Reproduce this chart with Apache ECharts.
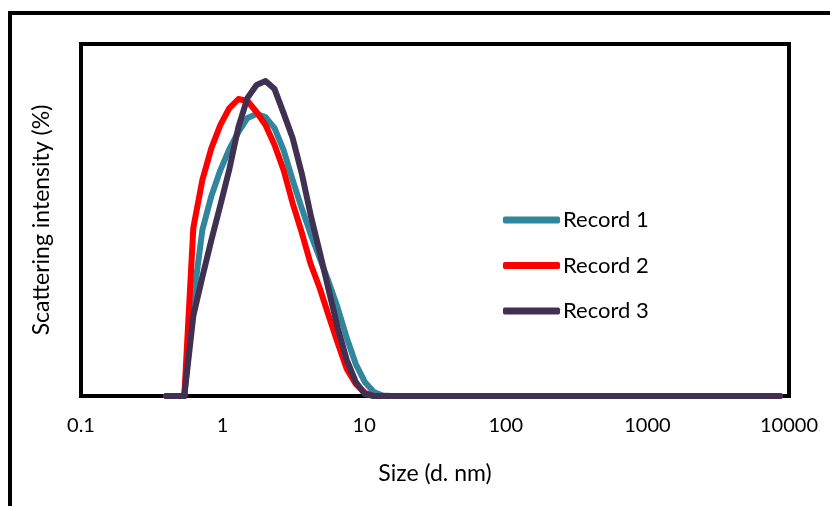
<!DOCTYPE html>
<html>
<head>
<meta charset="utf-8">
<script src="https://cdn.jsdelivr.net/npm/echarts@6/dist/echarts.min.js"></script>
<style>
  html, body { margin: 0; padding: 0; background: #fff; }
  #chart { width: 830px; height: 506px; }
</style>
</head>
<body>
<div id="chart"></div>
<script>
// Size bins (d. nm)
var sizes = [0.4, 0.4632, 0.5365, 0.6213, 0.7195, 0.8332, 0.9649, 1.117, 1.294, 1.499,
  1.736, 2.01, 2.328, 2.696, 3.122, 3.615, 4.187, 4.849, 5.615, 6.503,
  7.531, 8.721, 10.1, 11.7, 13.54, 15.69, 18.17, 21.04, 24.36, 28.21,
  32.67, 37.84, 43.82, 50.75, 58.77, 68.06, 78.82, 91.28, 105.7, 122.4,
  141.8, 164.2, 190.1, 220.2, 255.0, 295.3, 342.0, 396.1, 458.7, 531.2,
  615.1, 712.4, 825.0, 955.4, 1106, 1281, 1484, 1718, 1990, 2305,
  2669, 3091, 3580, 4145, 4801, 5560, 6439, 7456, 8635];

// Scattering intensity (%) per bin
var record1 = [0, 0, 0, 4.36, 7.55, 9.09, 10.27, 11.23, 12.0, 12.64,
  12.82, 12.68, 12.18, 11.18, 9.82, 8.55, 7.36, 6.27, 5.18, 4.0,
  2.64, 1.45, 0.64, 0.18, 0.02, 0, 0, 0, 0, 0,
  0, 0, 0, 0, 0, 0, 0, 0, 0, 0,
  0, 0, 0, 0, 0, 0, 0, 0, 0, 0,
  0, 0, 0, 0, 0, 0, 0, 0, 0, 0,
  0, 0, 0, 0, 0, 0, 0, 0, 0];

var record2 = [0, 0, 0, 7.64, 9.82, 11.27, 12.32, 13.09, 13.5, 13.41,
  12.91, 12.32, 11.41, 10.27, 8.77, 7.45, 6.0, 4.91, 3.64, 2.41,
  1.23, 0.55, 0.14, 0, 0, 0, 0, 0, 0, 0,
  0, 0, 0, 0, 0, 0, 0, 0, 0, 0,
  0, 0, 0, 0, 0, 0, 0, 0, 0, 0,
  0, 0, 0, 0, 0, 0, 0, 0, 0, 0,
  0, 0, 0, 0, 0, 0, 0, 0, 0];

var record3 = [0, 0, 0, 3.64, 5.41, 7.09, 8.68, 10.32, 12.23, 13.55,
  14.14, 14.32, 13.95, 12.86, 11.73, 10.14, 8.23, 6.55, 4.82, 3.09,
  1.64, 0.64, 0.09, 0, 0, 0, 0, 0, 0, 0,
  0, 0, 0, 0, 0, 0, 0, 0, 0, 0,
  0, 0, 0, 0, 0, 0, 0, 0, 0, 0,
  0, 0, 0, 0, 0, 0, 0, 0, 0, 0,
  0, 0, 0, 0, 0, 0, 0, 0, 0];

var seriesNames = ['Record 1', 'Record 2', 'Record 3'];
var seriesColors = ['#31859C', '#FF0000', '#403152'];
var xTickLabels = ['0.1', '1', '10', '100', '1000', '10000'];

function pairs(values) {
  return sizes.map(function (s, i) { return [s, values[i]]; });
}

var font = 'Lato, "Open Sans", "Liberation Sans", sans-serif';
var chart = echarts.init(document.getElementById('chart'), null, { renderer: 'canvas' });

chart.setOption({
  backgroundColor: '#ffffff',
  animation: false,
  textStyle: { fontFamily: font, color: '#000' },
  graphic: [{
    type: 'rect',
    shape: { x: 10, y: 13, width: 840, height: 520 },
    style: { fill: 'none', stroke: '#000', lineWidth: 4 },
    z: -1
  }],
  grid: {
    left: 81, right: 41, top: 44, bottom: 110,
    show: true, borderColor: '#000', borderWidth: 4, backgroundColor: 'transparent'
  },
  legend: {
    orient: 'vertical',
    left: 503,
    top: 209,
    padding: 0,
    itemWidth: 57,
    itemHeight: 7,
    itemGap: 23.5,
    icon: 'roundRect',
    textStyle: { fontFamily: font, fontSize: 22, color: '#000', lineHeight: 22, padding: [0, 0, 0, -2] },
    data: seriesNames
  },
  xAxis: {
    type: 'log',
    logBase: 10,
    min: 0.1,
    max: 10000,
    name: 'Size (d. nm)',
    nameLocation: 'middle',
    nameGap: 66,
    nameTextStyle: { fontFamily: font, fontSize: 23, color: '#000' },
    axisLine: { show: true, lineStyle: { color: '#000', width: 4 } },
    axisTick: { show: false },
    splitLine: { show: false },
    minorTick: { show: false },
    axisLabel: {
      margin: 20,
      fontFamily: font, fontSize: 20, color: '#000',
      formatter: function (v) {
        var e = Math.round(Math.log10(v)) + 1;
        return xTickLabels[e] !== undefined ? xTickLabels[e] : '';
      }
    }
  },
  yAxis: {
    type: 'value',
    min: 0,
    max: 16,
    name: 'Scattering intensity (%)',
    nameLocation: 'middle',
    nameGap: 28,
    nameTextStyle: { fontFamily: font, fontSize: 23, color: '#000' },
    axisLine: { show: false },
    axisTick: { show: false },
    axisLabel: { show: false },
    splitLine: { show: false }
  },
  series: seriesNames.map(function (name, k) {
    return {
      name: name,
      type: 'line',
      data: pairs([record1, record2, record3][k]),
      showSymbol: false,
      symbol: 'none',
      smooth: false,
      color: seriesColors[k],
      lineStyle: { color: seriesColors[k], width: 6, cap: 'round', join: 'round' },
      itemStyle: { color: seriesColors[k] },
      z: 2 + k
    };
  })
});
</script>
</body>
</html>
